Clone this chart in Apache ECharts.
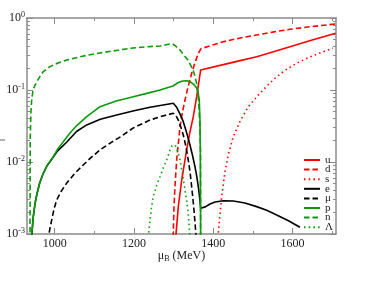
<!DOCTYPE html>
<html><head><meta charset="utf-8">
<script src="https://cdn.jsdelivr.net/npm/echarts@6/dist/echarts.min.js"></script>
<style>html,body{margin:0;padding:0;background:#fff}#c{width:381px;height:281px}</style>
</head><body><div id="c"></div>
<script>
// Data (mu_B in MeV, fraction)
const uData = [[1305.5,0.0009],[1311.9,0.00239],[1320.5,0.00562],[1333,0.0147],[1341,0.0255],[1349.7,0.0426],[1358.3,0.0807],[1368.4,0.19],[1425.5,0.225],[1468,0.256],[1509.8,0.29],[1550,0.338],[1593.8,0.399],[1650,0.495],[1709,0.613]];
const dData = [[1299,0.0009],[1301,0.00239],[1304,0.0051],[1307.8,0.01066],[1316.2,0.0309],[1322,0.048],[1328.8,0.0726],[1337,0.113],[1345.7,0.1706],[1354,0.24],[1362.4,0.3235],[1369.5,0.375],[1425.5,0.469],[1468,0.527],[1509.8,0.581],[1550,0.637],[1593.8,0.697],[1650,0.762],[1709,0.826]];
const sData = [[1412,0.0009],[1415.4,0.00148],[1421.4,0.0033],[1429.8,0.00733],[1438,0.0125],[1450.7,0.0225],[1468,0.037],[1488.5,0.0586],[1518,0.09],[1540,0.12],[1560.2,0.153],[1585,0.193],[1610.7,0.235],[1645,0.29],[1677.9,0.34],[1702,0.383]];
const eData = [[941.5,0.0009],[945.9,0.00174],[950,0.0026],[954.5,0.00348],[962,0.0051],[971.1,0.00697],[980,0.0088],[988,0.0101],[1005,0.0138],[1030,0.0188],[1055,0.0265],[1080.7,0.0327],[1115,0.0392],[1156.4,0.045],[1200,0.0515],[1240.5,0.0575],[1270,0.0615],[1299.3,0.0653],[1307.8,0.0575],[1316,0.0465],[1324.5,0.0363],[1333,0.0255],[1341.4,0.0172],[1348,0.0122],[1354,0.0086],[1358.5,0.0063],[1362.4,0.00454],[1365.8,0.0032],[1368.4,0.00228],[1370.9,0.0022],[1380,0.00238],[1392,0.00261],[1405,0.00278],[1425.5,0.0029],[1450.7,0.00287],[1480,0.0027],[1509.8,0.0024],[1535,0.00214],[1560.2,0.00184],[1590,0.00153],[1619,0.00124]];
const muData = [[983,0.0008],[987,0.00112],[992.3,0.00156],[998,0.0022],[1005,0.00297],[1016,0.0039],[1030.2,0.0051],[1050,0.0069],[1072,0.00908],[1092,0.0116],[1114.3,0.0147],[1140,0.0183],[1164.7,0.0222],[1198.3,0.0297],[1240.5,0.0383],[1270,0.0432],[1299.3,0.0475],[1305.5,0.0445],[1311.9,0.0383],[1318,0.031],[1324.5,0.0237],[1331,0.0165],[1337.1,0.01066],[1341.5,0.0073],[1345.7,0.00454],[1348.5,0.0032],[1351.5,0.00215],[1354.5,0.00135],[1357,0.0009]];
const pData = [[941.5,0.0009],[945.9,0.00174],[950,0.0026],[954.5,0.00348],[962,0.0051],[971.1,0.00697],[983,0.0093],[996.4,0.01185],[1008,0.0153],[1021.6,0.0191],[1037,0.0247],[1055,0.0318],[1080,0.0424],[1114.3,0.0586],[1155,0.0705],[1198.3,0.0807],[1235,0.0905],[1265.7,0.1],[1298.5,0.1137],[1311,0.126],[1320,0.132],[1328.8,0.1346],[1337,0.133],[1345.7,0.126],[1352,0.118],[1358.3,0.1066],[1362,0.093],[1364.9,0.0726],[1366.6,0.0383],[1367.6,0.012],[1368.4,0.0005]];
const nData = [[937.6,0.0008],[938.1,0.0202],[940.1,0.0527],[941.9,0.0726],[945.1,0.1],[949,0.113],[954.5,0.129],[962,0.152],[970.4,0.178],[985,0.207],[1000,0.228],[1031,0.261],[1070,0.295],[1114,0.327],[1160,0.357],[1197.5,0.383],[1230,0.398],[1265.7,0.408],[1278,0.422],[1291,0.436],[1298,0.434],[1303.5,0.415],[1316,0.36],[1326,0.306],[1336,0.261],[1343,0.222],[1349,0.19],[1354,0.155],[1358,0.125],[1361.6,0.0908],[1364,0.058],[1366.5,0.03],[1368,0.0148],[1368.4,0.0005]];
const lamData = [[1236,0.0009],[1240.5,0.00156],[1244.5,0.0024],[1248.8,0.0033],[1257,0.0047],[1265.7,0.00625],[1274,0.0083],[1282.6,0.01066],[1291,0.0147],[1296,0.0168],[1300.5,0.0178],[1304,0.0172],[1307.8,0.0155],[1312,0.0132],[1316.2,0.01066],[1322.5,0.0068],[1328.8,0.00408],[1333,0.0029],[1337.1,0.00196],[1341.4,0.0009]];

const names = ['u','d','s','e','\u03bc','p','n','\u039b'];
const xMajor = [1000,1200,1400,1600];
const xMinor = [1100,1300,1500,1700];
const yMajor = [0.001,0.01,0.1,1];
const yMinor = [];
[0.001,0.01,0.1].forEach(function(d){for(let k=2;k<=9;k++) yMinor.push(+(d*k).toPrecision(3));});

const RED='#ff0000', BLK='#000000', GRN='#0b9a0b';
const DASH=[5.5,3], DOT=[1.5,3.2];
const specs = [
  [uData,RED,'solid'],[dData,RED,DASH],[sData,RED,DOT],
  [eData,BLK,'solid'],[muData,BLK,DASH],
  [pData,GRN,'solid'],[nData,GRN,DASH],[lamData,GRN,DOT]
];
const FONT='Liberation Serif';
const AX='#8a8a8a';

function xAx(pos, vals, len, labels, line){
  return {type:'value', position:pos, min:930, max:1710,
    axisLine:{show:line, onZero:false, lineStyle:{color:AX,width:1.5}},
    axisTick:{show:true, inside:true, length:len, customValues:vals, lineStyle:{color:AX,width:1}},
    axisLabel:{show:labels, customValues:vals, margin:4, color:'#222', fontFamily:FONT, fontSize:12,
      formatter:function(v){return String(v);}},
    splitLine:{show:false},
    name: (pos==='bottom'&&labels)?'\u03bc{sub|B} (MeV)':'',
    nameLocation:'middle', nameGap:15, nameMoveOverlap:false,
    nameTextStyle:{color:'#222', fontFamily:FONT, fontSize:12, rich:{sub:{fontSize:8, fontFamily:FONT, color:'#222', padding:[6,0,0,0]}}}
  };
}
function yAx(pos, vals, len, labels, line){
  return {type:'log', logBase:10, position:pos, min:0.001, max:1,
    axisLine:{show:line, onZero:false, lineStyle:{color:AX,width:1.5}},
    axisTick:{show:true, inside:true, length:len, customValues:vals, lineStyle:{color:AX,width:1}},
    axisLabel:{show:labels, customValues:vals, margin:2, color:'#222', fontFamily:FONT,
      formatter:function(v){const e=Math.round(Math.log10(v));return '{b|10}{s|'+e+'}';},
      rich:{b:{fontSize:12,fontFamily:FONT,color:'#222'},s:{fontSize:8,fontFamily:FONT,color:'#222',padding:[0,0,7,0]}}},
    splitLine:{show:false}, minorTick:{show:false}
  };
}

const chart = echarts.init(document.getElementById('c'), null, {renderer:'canvas'});
chart.setOption({
  animation:false,
  backgroundColor:'#fff',
  grid:{left:27, top:18, right:45, bottom:47, containLabel:false},
  xAxis:[xAx('bottom',xMajor,6,true,true), xAx('bottom',xMinor,3,false,false), xAx('top',xMajor,6,false,true), xAx('top',xMinor,3,false,false)],
  yAxis:[yAx('left',yMajor,6,true,true), yAx('left',yMinor,3,false,false), yAx('right',yMajor,6,false,true), yAx('right',yMinor,3,false,false)],
  legend:{orient:'vertical', left:303, top:154.5, padding:0, itemWidth:16, itemHeight:9.6, itemGap:-1.4,
    itemStyle:{opacity:0, borderWidth:0},
    data:names, textStyle:{fontFamily:FONT, fontSize:11, color:'#222', lineHeight:9.6, padding:[0,0,0,0]}},
  graphic:[{type:'line', shape:{x1:0,y1:140,x2:5,y2:140}, style:{stroke:'#666', lineWidth:1}}],
  series: specs.map(function(s,i){return {
    name:names[i], type:'line', data:s[0], xAxisIndex:0, yAxisIndex:0,
    symbol:'none', showSymbol:false, clip:true,
    lineStyle:{color:s[1], width:1.6, type:s[2]}, itemStyle:{color:s[1]}
  };})
});
</script></body></html>
